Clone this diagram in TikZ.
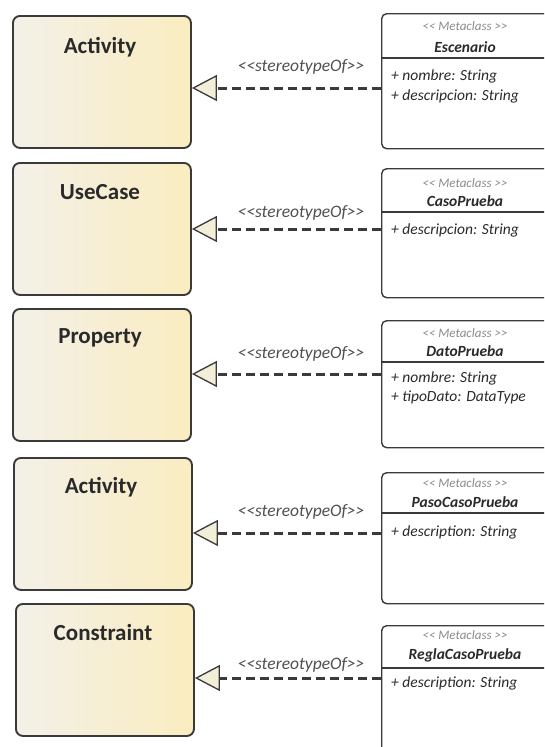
\documentclass[tikz,border=0pt]{standalone}
\usepackage{fontspec}
\setmainfont{Carlito}[Ligatures=TeXOff]
\usetikzlibrary{arrows.meta}
\definecolor{edge}{HTML}{3A3A3A}
\definecolor{fillL}{HTML}{F3F0E8}
\definecolor{fillR}{HTML}{FAEDC0}
\definecolor{tipfill}{HTML}{F2EED8}
\definecolor{lbl}{HTML}{505050}
\definecolor{metagray}{HTML}{8C8C8C}
\definecolor{txt}{HTML}{2A2A2A}

\begin{document}
\begin{tikzpicture}[x=1pt,y=-1pt,
  basebox/.style={draw=edge, line width=1.9pt, rounded corners=7pt,
    left color=fillL, right color=fillR, anchor=north west, inner sep=0pt,
    minimum width=178pt, minimum height=132pt},
  basetitle/.style={font=\fontsize{23}{27}\selectfont\bfseries, text=txt},
  metabox/.style={draw=edge, line width=1.4pt, rounded corners=5pt,
    fill=white, anchor=north west, inner sep=0pt, minimum width=190pt},
  sepline/.style={draw=edge, line width=1.2pt},
  metatag/.style={font=\fontsize{13}{15}\selectfont\itshape, text=metagray},
  metaname/.style={font=\fontsize{15.5}{18}\selectfont\bfseries\itshape, text=txt},
  attr/.style={font=\fontsize{15.5}{18}\selectfont\itshape, text=txt, anchor=west, inner sep=0pt},
  stlabel/.style={font=\fontsize{17.5}{20}\selectfont\itshape, text=lbl},
  stereo/.style={draw=edge, line width=3pt, dash pattern=on 9pt off 5pt,
    -{Triangle[length=25pt, width=26pt, fill=tipfill, line width=1.3pt]}},
]
\useasboundingbox (0,0) rectangle (544,747);
\clip (0,0) rectangle (544,747);

% ---- row 1: Activity / Escenario
\node[basebox] (s1) at (12,15) {};
\node[basetitle] (t1) at (100,47) {Activity};
\node[metabox, minimum height=135pt] (m1) at (381,13) {};
\node[metatag] (k1) at (465,26) {<< Metaclass >>};
\node[metaname] (n1) at (465,47) {Escenario};
\path[sepline] (m1.west |- 0,58) -- (m1.east |- 0,58);
\node[attr] (a11) at (391,76) {+ nombre: String};
\node[attr] (a12) at (391,96) {+ descripcion: String};
\draw[stereo] (m1.west |- 0,88) -- (s1.east |- 0,88);
\node[stlabel] (l1) at (301,67) {<<stereotypeOf>>};

% ---- row 2: UseCase / CasoPrueba
\node[basebox] (s2) at (12,162) {};
\node[basetitle] (t2) at (100,192) {UseCase};
\node[metabox, minimum height=129pt] (m2) at (381,168) {};
\node[metatag] (k2) at (465,183) {<< Metaclass >>};
\node[metaname] (n2) at (465,201) {CasoPrueba};
\path[sepline] (m2.west |- 0,212) -- (m2.east |- 0,212);
\node[attr] (a21) at (391,230) {+ descripcion: String};
\draw[stereo] (m2.west |- 0,229) -- (s2.east |- 0,229);
\node[stlabel] (l2) at (301,213) {<<stereotypeOf>>};

% ---- row 3: Property / DatoPrueba
\node[basebox] (s3) at (12,308) {};
\node[basetitle] (t3) at (100,338) {Property};
\node[metabox, minimum height=127pt] (m3) at (381,320) {};
\node[metatag] (k3) at (465,333) {<< Metaclass >>};
\node[metaname] (n3) at (465,351) {DatoPrueba};
\path[sepline] (m3.west |- 0,362) -- (m3.east |- 0,362);
\node[attr] (a31) at (391,378) {+ nombre: String};
\node[attr] (a32) at (391,397) {+ tipoDato: DataType};
\draw[stereo] (m3.west |- 0,374) -- (s3.east |- 0,374);
\node[stlabel] (l3) at (301,354) {<<stereotypeOf>>};

% ---- row 4: Activity / PasoCasoPrueba
\node[basebox] (s4) at (13,457) {};
\node[basetitle] (t4) at (101,487) {Activity};
\node[metabox, minimum height=131pt] (m4) at (381,472) {};
\node[metatag] (k4) at (465,483) {<< Metaclass >>};
\node[metaname] (n4) at (465,502) {PasoCasoPrueba};
\path[sepline] (m4.west |- 0,513) -- (m4.east |- 0,513);
\node[attr] (a41) at (391,532) {+ description: String};
\draw[stereo] (m4.west |- 0,533) -- (s4.east |- 0,533);
\node[stlabel] (l4) at (301,512) {<<stereotypeOf>>};

% ---- row 5: Constraint / ReglaCasoPrueba
\node[basebox] (s5) at (15,603) {};
\node[basetitle] (t5) at (103,633) {Constraint};
\node[metabox, minimum height=140pt] (m5) at (381,625) {};
\node[metatag] (k5) at (465,635) {<< Metaclass >>};
\node[metaname] (n5) at (465,655) {ReglaCasoPrueba};
\path[sepline] (m5.west |- 0,668) -- (m5.east |- 0,668);
\node[attr] (a51) at (391,683) {+ description: String};
\draw[stereo] (m5.west |- 0,678) -- (s5.east |- 0,678);
\node[stlabel] (l5) at (301,665) {<<stereotypeOf>>};
\end{tikzpicture}
\end{document}
